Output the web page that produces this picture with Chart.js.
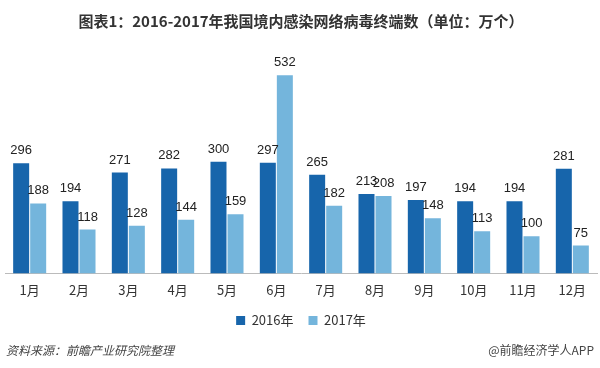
<!DOCTYPE html>
<html><head><meta charset="utf-8">
<script src="https://cdn.jsdelivr.net/npm/chart.js@4.4.0/dist/chart.umd.min.js"></script>
<style>
html,body{margin:0;padding:0;background:#fff;}
#wrap{position:relative;width:600px;height:368px;}
#src{position:absolute;left:6px;top:341px;font:italic 12px "Noto Sans CJK SC",sans-serif;color:#444;}
#app{position:absolute;right:6px;top:341px;font:12px "Noto Sans CJK SC",sans-serif;color:#444;}
</style></head>
<body>
<div id="wrap">
<canvas id="c" width="600" height="368"></canvas>
<div id="src">资料来源：前瞻产业研究院整理</div>
<div id="app">@前瞻经济学人APP</div>
</div>
<script>
const categories = ["1月","2月","3月","4月","5月","6月","7月","8月","9月","10月","11月","12月"];
const values2016 = [296,194,271,282,300,297,265,213,197,194,194,281];
const values2017 = [188,118,128,144,159,532,182,208,148,113,100,75];
const seriesNames = ["2016年","2017年"];

const labelPlugin = {
  id:'barLabels',
  afterDatasetsDraw(chart){
    const ctx = chart.ctx;
    ctx.save();
    ctx.font = '13px "Liberation Sans", Arial, sans-serif';
    ctx.fillStyle = '#222';
    ctx.textAlign = 'center';
    ctx.textBaseline = 'bottom';
    chart.data.datasets.forEach((ds,i)=>{
      const meta = chart.getDatasetMeta(i);
      meta.data.forEach((bar,j)=>{
        ctx.fillText(String(ds.data[j]), bar.x, bar.y - 6);
      });
    });
    ctx.restore();
  }
};

new Chart(document.getElementById('c'), {
  type:'bar',
  data:{
    labels:categories,
    datasets:[
      {label:seriesNames[0], data:values2016, backgroundColor:'#1765ab'},
      {label:seriesNames[1], data:values2017, backgroundColor:'#74b5dc'}
    ]
  },
  options:{
    responsive:false,
    animation:false,
    layout:{padding:{left:5,right:3,top:0,bottom:31}},
    datasets:{bar:{categoryPercentage:0.69,barPercentage:0.94}},
    scales:{
      x:{
        grid:{display:false},
        border:{display:true,color:'#bbb',width:1},
        ticks:{color:'#333',font:{family:'"Noto Sans CJK SC", sans-serif',size:13},padding:1}
      },
      y:{display:false,min:0,max:600}
    },
    plugins:{
      title:{display:true,text:'图表1：2016-2017年我国境内感染网络病毒终端数（单位：万个）',
        color:'#333',font:{family:'"Noto Sans CJK SC", sans-serif',size:15,weight:'bold'},padding:{top:12,bottom:20}},
      legend:{position:'bottom',labels:{boxWidth:9,boxHeight:9,color:'#333',padding:15,
        font:{family:'"Noto Sans CJK SC", sans-serif',size:13}}},
      tooltip:{enabled:false}
    }
  },
  plugins:[labelPlugin]
});
</script>
</body></html>
